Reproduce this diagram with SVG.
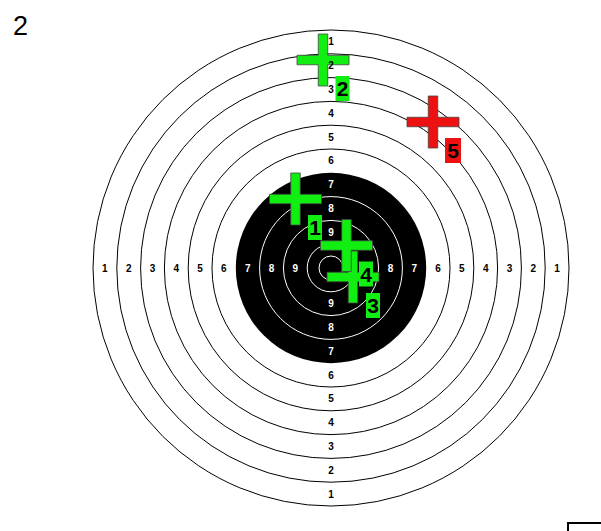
<svg xmlns="http://www.w3.org/2000/svg" xmlns:xlink="http://www.w3.org/1999/xlink" width="601" height="531" viewBox="0 0 601 531">
<style>
.ring{fill:none;stroke:#000;stroke-width:1}
.iring{fill:none;stroke:#fff;stroke-width:1}
.lb{font-family:"Liberation Sans",Arial,sans-serif;font-weight:bold;font-size:10px;text-anchor:middle;fill:#000}
.lw{font-family:"Liberation Sans",Arial,sans-serif;font-weight:bold;font-size:10px;text-anchor:middle;fill:#fff}
.num{font-family:"Liberation Sans",Arial,sans-serif;font-weight:bold;font-size:21px;text-anchor:middle;fill:#000}
.g{fill:#11ee11;stroke:#444;stroke-width:0.8}
.r{fill:#ee1111;stroke:#444;stroke-width:0.8}
.gb{fill:#11ee11}
.rb{fill:#ee1111}
</style>
<defs>
<path id="cross" d="M-4.75,-26 H4.75 V-4.75 H26 V4.75 H4.75 V26 H-4.75 V4.75 H-26 V-4.75 H-4.75 Z"/>
</defs>
<rect width="601" height="531" fill="#fff"/>
<text x="13" y="35" font-family="Liberation Sans,Arial,sans-serif" font-size="27" fill="#000">2</text>
<g id="target">
<circle class="ring" cx="331" cy="268" r="238" fill="#fff"/>
<circle class="ring" cx="331" cy="268" r="214.2"/>
<circle class="ring" cx="331" cy="268" r="190.4"/>
<circle class="ring" cx="331" cy="268" r="166.6"/>
<circle class="ring" cx="331" cy="268" r="142.8"/>
<circle class="ring" cx="331" cy="268" r="119"/>
<circle cx="331" cy="268" r="95.2" fill="#000"/>
<circle class="iring" cx="331" cy="268" r="71.4"/>
<circle class="iring" cx="331" cy="268" r="47.6"/>
<circle class="iring" cx="331" cy="268" r="23.8"/>
<circle class="iring" cx="331" cy="268" r="12"/>
</g>
<g id="shots">
<g id="shot1"><use xlink:href="#cross" class="g" transform="translate(295.5,199)"/></g>
<g id="shot2"><use xlink:href="#cross" class="g" transform="translate(323,60)"/></g>
<g id="shot3"><use xlink:href="#cross" class="g" transform="translate(353,277)"/></g>
<g id="shot4"><use xlink:href="#cross" class="g" transform="translate(346.5,245.5)"/></g>
<g id="shot5"><use xlink:href="#cross" class="r" transform="translate(433,122)"/></g>
</g>
<g id="labels">
<text class="lb" x="104.9" y="271.5">1</text>
<text class="lb" x="128.7" y="271.5">2</text>
<text class="lb" x="152.5" y="271.5">3</text>
<text class="lb" x="176.3" y="271.5">4</text>
<text class="lb" x="200.1" y="271.5">5</text>
<text class="lb" x="223.9" y="271.5">6</text>
<text class="lw" x="247.7" y="271.5">7</text>
<text class="lw" x="271.5" y="271.5">8</text>
<text class="lw" x="295.3" y="271.5">9</text>
<text class="lb" x="557.1" y="271.5">1</text>
<text class="lb" x="533.3" y="271.5">2</text>
<text class="lb" x="509.5" y="271.5">3</text>
<text class="lb" x="485.7" y="271.5">4</text>
<text class="lb" x="461.9" y="271.5">5</text>
<text class="lb" x="438.1" y="271.5">6</text>
<text class="lw" x="414.3" y="271.5">7</text>
<text class="lw" x="390.5" y="271.5">8</text>
<text class="lb" x="331" y="45.4">1</text>
<text class="lb" x="331" y="69.2">2</text>
<text class="lb" x="331" y="93">3</text>
<text class="lb" x="331" y="116.8">4</text>
<text class="lb" x="331" y="140.6">5</text>
<text class="lb" x="331" y="164.4">6</text>
<text class="lw" x="331" y="188.2">7</text>
<text class="lw" x="331" y="212">8</text>
<text class="lw" x="331" y="235.8">9</text>
<text class="lb" x="331" y="497.6">1</text>
<text class="lb" x="331" y="473.8">2</text>
<text class="lb" x="331" y="450">3</text>
<text class="lb" x="331" y="426.2">4</text>
<text class="lb" x="331" y="402.4">5</text>
<text class="lb" x="331" y="378.6">6</text>
<text class="lw" x="331" y="354.8">7</text>
<text class="lw" x="331" y="331">8</text>
<text class="lw" x="331" y="307.2">9</text>
</g>
<g id="tags">
<g id="tag1"><rect class="gb" x="308" y="215" width="14" height="25"/><text class="num" x="315" y="235">1</text></g>
<g id="tag2"><rect class="gb" x="335.5" y="76" width="14" height="25"/><text class="num" x="342.5" y="96">2</text></g>
<g id="tag3"><rect class="gb" x="366" y="293" width="14" height="25"/><text class="num" x="373" y="313">3</text></g>
<g id="tag4"><rect class="gb" x="359" y="261.5" width="14" height="25"/><text class="num" x="366" y="281.5">4</text></g>
<g id="tag5"><rect class="rb" x="445" y="138" width="16" height="25"/><text class="num" x="453" y="158">5</text></g>
</g>
<rect x="568" y="523" width="60" height="20" fill="none" stroke="#000" stroke-width="2"/>
</svg>
